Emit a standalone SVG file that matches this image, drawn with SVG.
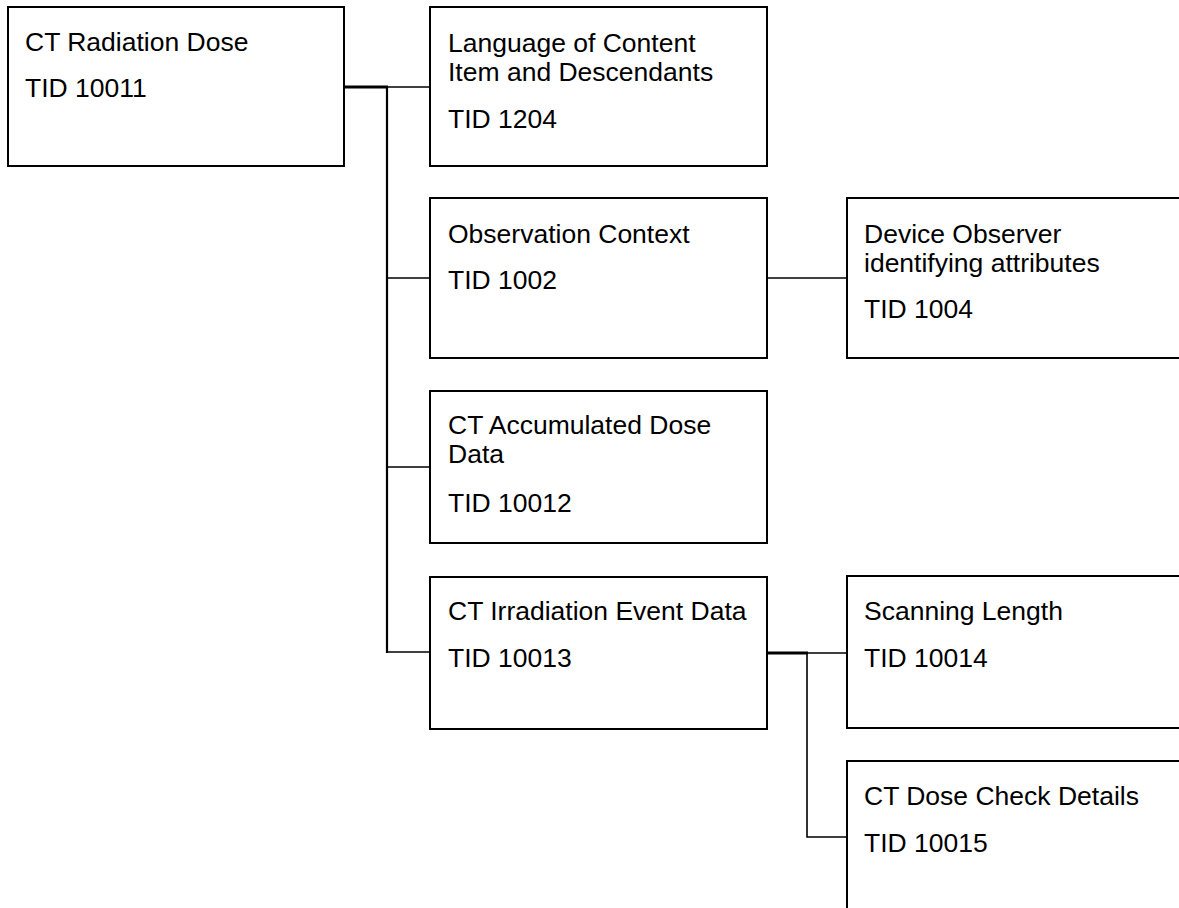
<svg xmlns="http://www.w3.org/2000/svg" width="1179" height="908" viewBox="0 0 1179 908">
<style>
.box{fill:#fff;stroke:#000;stroke-width:2}
.t{font-family:"Liberation Sans",Arial,sans-serif;font-size:26.5px;fill:#000}
.c{fill:none;stroke:#000;stroke-width:1.6}
.ct{fill:none;stroke:#000;stroke-width:3}
.tr{fill:none;stroke:#000;stroke-width:2.2}
</style>
<rect width="1179" height="908" fill="#fff"/>
<g id="connectors">
<line class="ct" x1="344" y1="87" x2="388" y2="87"/>
<line class="c" x1="387" y1="87" x2="430" y2="87"/>
<line class="tr" x1="387" y1="86" x2="387" y2="653"/>
<line class="c" x1="387" y1="278" x2="430" y2="278"/>
<line class="c" x1="387" y1="467" x2="430" y2="467"/>
<line class="c" x1="386" y1="652" x2="430" y2="652"/>
<line class="c" x1="767" y1="278" x2="847" y2="278"/>
<line class="ct" x1="767" y1="653" x2="808" y2="653"/>
<line class="c" x1="807" y1="653" x2="847" y2="653"/>
<polyline class="c" points="807,653 807,837 847,837"/>
</g>
<g id="n-ct-radiation-dose">
<rect class="box" x="8" y="7" width="336" height="159"/>
<text class="t" x="25" y="51">CT Radiation Dose</text>
<text class="t" x="25" y="97">TID 10011</text>
</g>
<g id="n-language">
<rect class="box" x="430" y="7" width="337" height="159"/>
<text class="t" x="448" y="52">Language of Content</text>
<text class="t" x="448" y="81">Item and Descendants</text>
<text class="t" x="448" y="128">TID 1204</text>
</g>
<g id="n-observation-context">
<rect class="box" x="430" y="198" width="337" height="160"/>
<text class="t" x="448" y="243">Observation Context</text>
<text class="t" x="448" y="289">TID 1002</text>
</g>
<g id="n-device-observer">
<rect class="box" x="847" y="198" width="340" height="160"/>
<text class="t" x="864" y="243">Device Observer</text>
<text class="t" x="864" y="272">identifying attributes</text>
<text class="t" x="864" y="318">TID 1004</text>
</g>
<g id="n-ct-accumulated">
<rect class="box" x="430" y="391" width="337" height="152"/>
<text class="t" x="448" y="434">CT Accumulated Dose</text>
<text class="t" x="448" y="463">Data</text>
<text class="t" x="448" y="512">TID 10012</text>
</g>
<g id="n-ct-irradiation">
<rect class="box" x="430" y="577" width="337" height="152"/>
<text class="t" x="448" y="620">CT Irradiation Event Data</text>
<text class="t" x="448" y="667">TID 10013</text>
</g>
<g id="n-scanning-length">
<rect class="box" x="847" y="576" width="340" height="152"/>
<text class="t" x="864" y="620">Scanning Length</text>
<text class="t" x="864" y="667">TID 10014</text>
</g>
<g id="n-ct-dose-check">
<rect class="box" x="847" y="761" width="340" height="160"/>
<text class="t" x="864" y="805">CT Dose Check Details</text>
<text class="t" x="864" y="852">TID 10015</text>
</g>
</svg>
